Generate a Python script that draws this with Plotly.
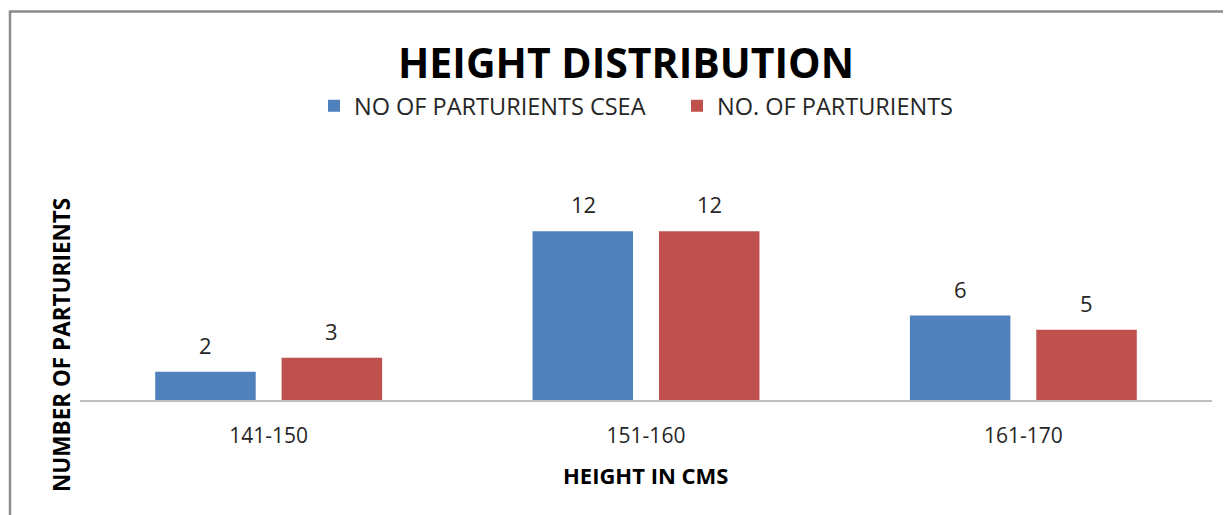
import plotly.graph_objects as go

categories = ["141-150", "151-160", "161-170"]
csea = [2, 12, 6]
total = [3, 12, 5]
series_names = ["NO OF PARTURIENTS CSEA", "NO. OF PARTURIENTS"]
series_colors = ["#4F81BD", "#C0504D"]
title_text = "HEIGHT DISTRIBUTION"
x_title = "HEIGHT IN CMS"
y_title = "NUMBER OF PARTURIENTS"

# page body has an 8px margin; work in figure pixel coordinates
OFF = 8
W, H = 1231 - OFF, 515 - OFF
L, R, T, B = 80 - OFF, 1212 - OFF, 203 - OFF, 400 - OFF

def px(x):
    return (x - OFF - L) / (R - L)

def py(y):
    return (B - (y - OFF)) / (B - T)

FONT = "Open Sans"
TXT = "#262626"
fig = go.Figure()
for name, vals, col in zip(series_names, [csea, total], series_colors):
    fig.add_trace(go.Bar(x=categories, y=vals, name=name, marker_color=col,
                         marker_line_width=0))

# data labels, placed above each bar through the axis scales
slot_shift = 63
for j, vals in enumerate([csea, total]):
    for cat, v in zip(categories, vals):
        fig.add_annotation(x=cat, y=v, xref="x", yref="y", text=str(v), showarrow=False,
                           xshift=(-slot_shift if j == 0 else slot_shift), yshift=27,
                           xanchor="center", yanchor="middle",
                           font=dict(size=22, family=FONT, color=TXT))

fig.update_layout(
    width=W, height=H,
    margin=dict(l=L, r=W - R, t=T, b=H - B),
    paper_bgcolor="white", plot_bgcolor="white",
    barmode="group", bargap=0.33, bargroupgap=0.205,
    showlegend=True,
    legend=dict(orientation="h", x=px(314), y=py(106), xanchor="left", yanchor="middle",
                font=dict(size=23.5, family=FONT, color=TXT), itemwidth=30,
                entrywidth=318,
                bgcolor="rgba(0,0,0,0)", traceorder="normal"),
    font=dict(family=FONT),
)
fig.update_xaxes(showline=True, linecolor="#BFBFBF", linewidth=1.5, ticks="",
                 ticklabelstandoff=16,
                 tickfont=dict(size=21, family=FONT, color=TXT), showgrid=False)
fig.update_yaxes(range=[0, 14], visible=False, showgrid=False)

fig.add_annotation(text=f"<b>{title_text}</b>", xref="paper", yref="paper",
                   x=px(626), y=py(62), showarrow=False, xanchor="center", yanchor="middle",
                   font=dict(size=41, family=FONT, color="black"))
fig.add_annotation(text=f"<b>{x_title}</b>", xref="paper", yref="paper",
                   x=px(645), y=py(475), showarrow=False, xanchor="center", yanchor="middle",
                   font=dict(size=22, family=FONT, color="black"))
fig.add_annotation(text=f"<b>{y_title}</b>", xref="paper", yref="paper",
                   x=px(61), y=py(345), showarrow=False, xanchor="center", yanchor="middle",
                   textangle=-90, font=dict(size=22.5, family=FONT, color="black"))

# border frame
fig.add_shape(type="rect", xref="paper", yref="paper",
              x0=px(10), y0=py(540), x1=px(1260), y1=py(11.5),
              line=dict(color="#8C8C8C", width=2.5), fillcolor="rgba(0,0,0,0)", layer="below")

fig.write_html("out.html")
